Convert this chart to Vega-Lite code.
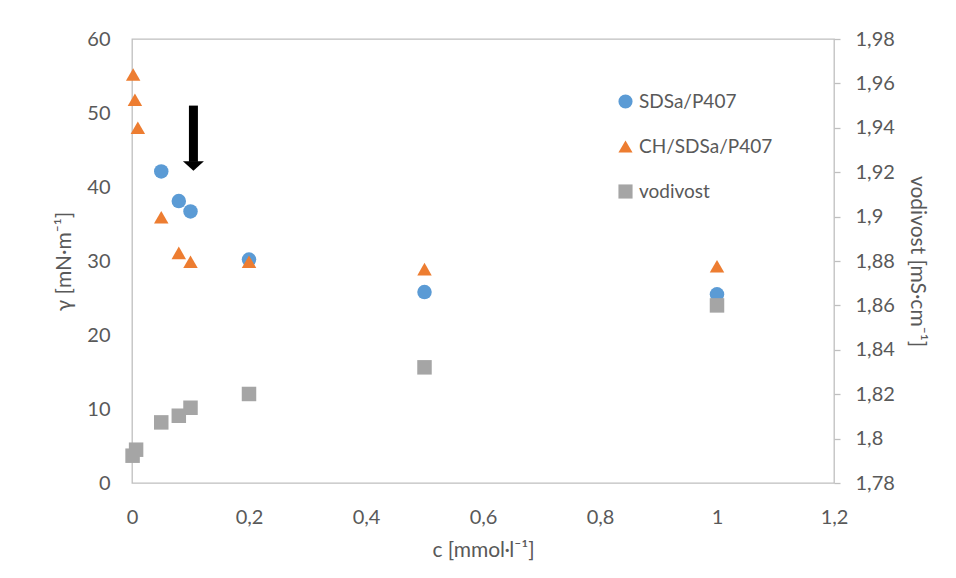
{
  "$schema": "https://vega.github.io/schema/vega-lite/v6.json",
  "autosize": {"type": "none"},
  "width": 702,
  "height": 444,
  "padding": {"left": 132, "top": 39, "right": 122, "bottom": 95},
  "background": "white",
  "config": {
    "font": "Lato",
    "view": {"stroke": "#BFBFBF", "strokeWidth": 1.3},
    "axis": {"labelColor": "#595959", "titleColor": "#595959", "labelFontSize": 20, "titleFontSize": 21, "titleFontWeight": "normal", "grid": false, "domain": false, "labelFlush": false},
    "legend": {"labelColor": "#595959", "labelFontSize": 19, "padding": 0}
  },
  "datasets": {
    "tension": [
      {"c": 0.05, "v": 42.1, "series": "SDSa/P407"},
      {"c": 0.08, "v": 38.1, "series": "SDSa/P407"},
      {"c": 0.1, "v": 36.7, "series": "SDSa/P407"},
      {"c": 0.2, "v": 30.2, "series": "SDSa/P407"},
      {"c": 0.5, "v": 25.8, "series": "SDSa/P407"},
      {"c": 1, "v": 25.5, "series": "SDSa/P407"},
      {"c": 0.002, "v": 55.2, "series": "CH/SDSa/P407"},
      {"c": 0.005, "v": 51.8, "series": "CH/SDSa/P407"},
      {"c": 0.01, "v": 48.0, "series": "CH/SDSa/P407"},
      {"c": 0.05, "v": 35.9, "series": "CH/SDSa/P407"},
      {"c": 0.08, "v": 31.1, "series": "CH/SDSa/P407"},
      {"c": 0.1, "v": 29.9, "series": "CH/SDSa/P407"},
      {"c": 0.2, "v": 29.9, "series": "CH/SDSa/P407"},
      {"c": 0.5, "v": 28.9, "series": "CH/SDSa/P407"},
      {"c": 1, "v": 29.3, "series": "CH/SDSa/P407"}
    ],
    "cond": [
      {"c": 0.001, "v": 1.7923, "series": "vodivost"},
      {"c": 0.007, "v": 1.795, "series": "vodivost"},
      {"c": 0.05, "v": 1.8073, "series": "vodivost"},
      {"c": 0.08, "v": 1.8103, "series": "vodivost"},
      {"c": 0.1, "v": 1.8139, "series": "vodivost"},
      {"c": 0.2, "v": 1.8201, "series": "vodivost"},
      {"c": 0.5, "v": 1.8321, "series": "vodivost"},
      {"c": 1, "v": 1.86, "series": "vodivost"}
    ],
    "arrow": [
      {"c": 0.105, "top": 51.0, "bottom": 43.4, "head": 42.85}
    ]
  },
  "encoding": {
    "x": {
      "field": "c", "type": "quantitative",
      "scale": {"domain": [0, 1.2], "nice": false, "zero": false},
      "axis": {
        "title": "c [mmol·l⁻¹]",
        "values": [0, 0.2, 0.4, 0.6, 0.8, 1, 1.2],
        "labelExpr": "replace(datum.value + '', '.', ',')",
        "ticks": false, "tickSize": 0, "labelPadding": 24, "titlePadding": 12
      }
    }
  },
  "layer": [
    {
      "layer": [
        {
          "data": {"name": "tension"},
          "mark": {"type": "point", "filled": true, "opacity": 1},
          "encoding": {
            "y": {
              "field": "v", "type": "quantitative",
              "scale": {"domain": [0, 60], "nice": false},
              "axis": {
                "orient": "left", "title": "γ [mN·m⁻¹]",
                "values": [0, 10, 20, 30, 40, 50, 60],
                "ticks": false, "tickSize": 0, "labelPadding": 22, "titlePadding": 12
              }
            },
            "color": {
              "field": "series", "type": "nominal",
              "scale": {"domain": ["SDSa/P407", "CH/SDSa/P407", "vodivost"], "range": ["#5B9BD5", "#ED7D31", "#A5A5A5"]},
              "legend": {"title": null, "orient": "none", "legendX": 484, "legendY": 53, "symbolSize": 200, "rowPadding": 25, "symbolOpacity": 1, "labelOffset": 4}
            },
            "shape": {
              "field": "series", "type": "nominal",
              "scale": {"domain": ["SDSa/P407", "CH/SDSa/P407", "vodivost"], "range": ["circle", "triangle-up", "square"]},
              "legend": {"title": null, "orient": "none", "legendX": 484, "legendY": 53, "symbolSize": 200, "rowPadding": 25, "symbolOpacity": 1, "labelOffset": 4}
            },
            "size": {"value": 210}
          }
        },
        {
          "data": {"name": "arrow"},
          "mark": {"type": "rule", "color": "black", "strokeWidth": 9, "strokeCap": "butt"},
          "encoding": {
            "y": {"field": "top", "type": "quantitative"},
            "y2": {"field": "bottom"}
          }
        },
        {
          "data": {"name": "arrow"},
          "mark": {"type": "point", "filled": true, "opacity": 1, "color": "black", "shape": "M-1,-0.45L1,-0.45L0,0.45Z", "size": 441},
          "encoding": {
            "y": {"field": "head", "type": "quantitative"}
          }
        }
      ]
    },
    {
      "data": {"name": "cond"},
      "mark": {"type": "point", "filled": true, "opacity": 1},
      "encoding": {
        "y": {
          "field": "v", "type": "quantitative",
          "scale": {"domain": [1.78, 1.98], "nice": false, "zero": false},
          "axis": {
            "orient": "right", "title": "vodivost [mS·cm⁻¹]",
            "values": [1.78, 1.8, 1.82, 1.84, 1.86, 1.88, 1.9, 1.92, 1.94, 1.96, 1.98],
            "labelExpr": "replace(datum.value + '', '.', ',')",
            "ticks": true, "tickSize": 6, "tickColor": "#BFBFBF", "tickWidth": 1.3,
            "labelPadding": 15, "titlePadding": 12
          }
        },
        "color": {"field": "series", "type": "nominal"},
        "shape": {"field": "series", "type": "nominal"},
        "size": {"value": 210}
      }
    }
  ],
  "resolve": {"scale": {"y": "independent"}, "axis": {"y": "independent"}}
}
